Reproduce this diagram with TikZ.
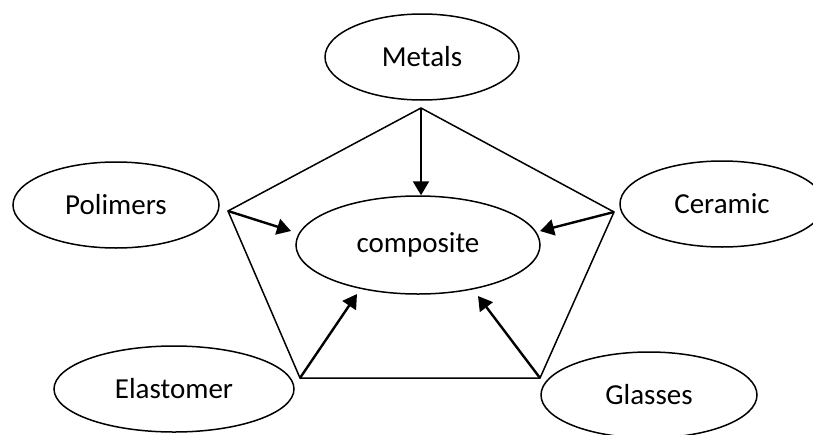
\documentclass[tikz,border=0pt]{standalone}
\usepackage{fontspec}
\setmainfont{Carlito}
\usetikzlibrary{shapes.geometric,arrows.meta}
\tikzset{
  oval/.style={draw,shape=ellipse,line width=1.5pt,inner sep=0pt},
  side/.style={line width=1.5pt},
  arr/.style={line width=2.4pt,-{Triangle[length=14pt,width=16pt]}}
}
\begin{document}
\begin{tikzpicture}[x=1pt,y=-1pt,font=\fontsize{29}{34}\selectfont]
		\useasboundingbox (0,0) rectangle (813,434);
		\node[oval,minimum width=194pt,minimum height=86pt] (ME) at (422,57) {Metals};
		\node[oval,minimum width=206pt,minimum height=86pt] (PO) at (116,205) {Polimers};
		\node[oval,minimum width=204pt,minimum height=86pt] (CE) at (722,204) {Ceramic};
		\node[oval,minimum width=240pt,minimum height=86pt] (EL) at (174,389) {Elastomer};
		\node[oval,minimum width=216pt,minimum height=86pt] (GL) at (649,395) {Glasses};
		\node[oval,minimum width=244pt,minimum height=98pt] (CO) at (418,245) {composite};
		
		\coordinate (VA) at (421,108);
		\coordinate (VB) at (228,211);
		\coordinate (VC) at (614,212);
		\coordinate (VD) at (300,378);
		\coordinate (VE) at (540,378);
		\coordinate (TB) at (291,231);
		\coordinate (TC) at (540,231);
		\coordinate (TD) at (357,294);
		\coordinate (TE) at (478,296);
		
		\draw[side] (VA)--(VC)--(VE)--(VD)--(VB)--cycle;
		\draw[arr] (VA)--(VA |- CO.north);
		\draw[arr] (VB)--(TB);
		\draw[arr] (VC)--(TC);
		\draw[arr] (VD)--(TD);
		\draw[arr] (VE)--(TE);
\end{tikzpicture}
\end{document}
